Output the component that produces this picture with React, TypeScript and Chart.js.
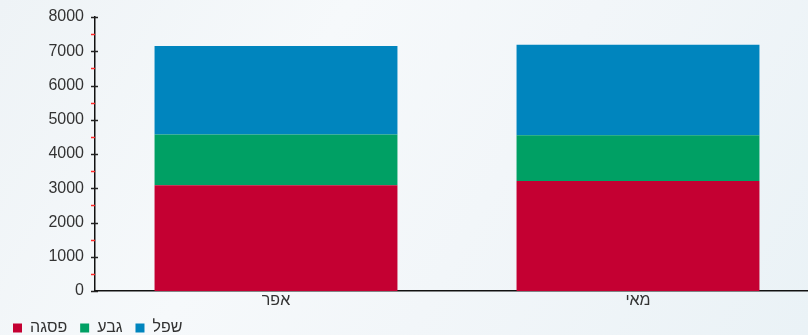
import React, { useEffect, useRef } from "react";
import { Chart, registerables } from "chart.js";

Chart.register(...registerables);

const categories = ["אפר", "מאי"];
const seriesNames = ["פסגה", "גבע", "שפל"];
const peakValues = [3090, 3210];
const midValues = [1480, 1340];
const lowValues = [2580, 2640];
const seriesColors = ["#c40032", "#00a064", "#0085be"];
const yMin = 0;
const yMax = 8000;
const yStep = 1000;

const LEGEND_H = 28;
const XAXIS_H = 16;

const tickPlugin = {
  id: "customTicks",
  beforeLayout(chart: any) {
    const lg = chart.legend;
    if (lg && !lg.__patched) {
      const orig = lg.fit.bind(lg);
      lg.fit = function () {
        orig();
        this.height = LEGEND_H;
      };
      lg.__patched = true;
    }
  },
  afterDraw(chart: any) {
    const y = chart.scales.y;
    const ctx = chart.ctx;
    const x0 = y.right;
    ctx.save();
    for (let v = yMin; v <= yMax; v += yStep / 2) {
      const py = Math.round(y.getPixelForValue(v)) + 0.5;
      const major = v % yStep === 0;
      ctx.beginPath();
      ctx.lineWidth = 1.5;
      ctx.strokeStyle = major ? "#222222" : "#ff2a2a";
      if (major) {
        ctx.moveTo(x0 - 4, py);
        ctx.lineTo(x0 + 3, py);
      } else {
        ctx.moveTo(x0 - 4, py);
        ctx.lineTo(x0, py);
      }
      ctx.stroke();
    }
    ctx.restore();
  },
};

export default function App() {
  const ref = useRef<HTMLCanvasElement>(null);
  useEffect(() => {
    const fam = "'Liberation Sans', Arial, sans-serif";
    const font = { family: fam, size: 16 };
    const hebFont = { family: fam, size: 16 };
    const chart = new Chart(ref.current!, {
      type: "bar",
      data: {
        labels: categories,
        datasets: [
          { label: seriesNames[0], data: peakValues, backgroundColor: seriesColors[0] },
          { label: seriesNames[1], data: midValues, backgroundColor: seriesColors[1] },
          { label: seriesNames[2], data: lowValues, backgroundColor: seriesColors[2] },
        ].map((d) => ({
          ...d,
          borderWidth: 0,
          categoryPercentage: 1,
          barPercentage: 0.671,
        })),
      },
      options: {
        animation: false,
        responsive: false,
        maintainAspectRatio: false,
        layout: { padding: { top: 17, left: 0, right: 1, bottom: 0 } },
        plugins: {
          tooltip: { enabled: false },
          legend: {
            position: "bottom",
            align: "start",
            labels: {
              boxWidth: 9,
              boxHeight: 9,
              padding: 13,
              color: "#333333",
              font: hebFont,
            },
          },
        },
        scales: {
          x: {
            stacked: true,
            afterFit: (s: any) => {
              s.height = XAXIS_H;
            },
            grid: { display: false, drawTicks: false },
            border: { display: true, color: "#111111", width: 1.5 },
            ticks: { color: "#333333", font: hebFont, padding: 0 },
          },
          y: {
            stacked: true,
            min: yMin,
            max: yMax,
            afterFit: (s: any) => {
              s.width = 95;
            },
            grid: { display: false },
            border: { display: true, color: "#111111", width: 1.5 },
            ticks: {
              stepSize: yStep,
              color: "#333333",
              font,
              padding: 3,
              callback: (v: any) => String(v),
            },
          },
        },
      },
      plugins: [tickPlugin],
    });
    return () => chart.destroy();
  }, []);
  return (
    <div
      style={{
        position: "fixed",
        left: 0,
        top: 0,
        width: 808,
        height: 335,
        overflow: "hidden",
        background:
          "linear-gradient(120deg, #eef3f6 0%, #f6f9fb 35%, #f2f6f9 60%, #eaf2f6 100%)",
      }}
    >
      <canvas ref={ref} width={820} height={335} style={{ display: "block" }} />
    </div>
  );
}
